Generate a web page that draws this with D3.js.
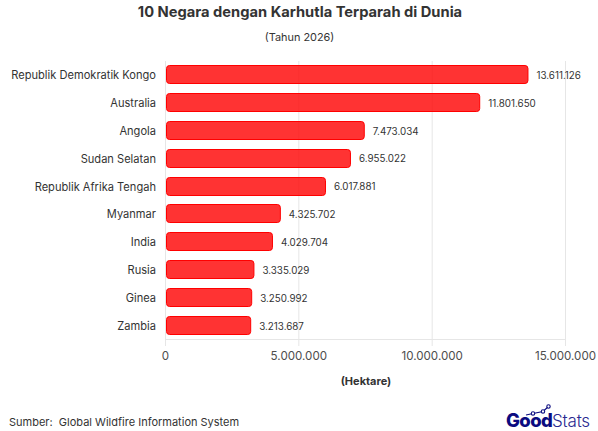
<!DOCTYPE html>
<html><head><meta charset="utf-8">
<script src="https://cdn.jsdelivr.net/npm/d3@7/dist/d3.min.js"></script>
<style>html,body{margin:0;padding:0;background:#fff}svg{display:block}text{font-family:Inter,"Open Sans",sans-serif}</style>
</head><body><svg id="c" width="598" height="431"></svg>
<script>
const categories=["Republik Demokratik Kongo","Australia","Angola","Sudan Selatan","Republik Afrika Tengah","Myanmar","India","Rusia","Ginea","Zambia"];
const values=[13611126,11801650,7473034,6955022,6017881,4325702,4029704,3335029,3250992,3213687];
const ticks=[0,5000000,10000000,15000000];
const fmt=v=>d3.format(",")(v).replace(/,/g,".");
const svg=d3.select("#c");
const x=d3.scaleLinear().domain([0,15000000]).range([165.5,565.5]);
const y=d3.scaleBand().domain(categories).range([61,339.5]).paddingInner(0.3).paddingOuter(0.15);
const by=c=>Math.round(y(c))+0.5;
svg.append("g").selectAll("line").data(ticks).join("line")
 .attr("x1",d=>x(d)).attr("x2",d=>x(d)).attr("y1",61).attr("y2",346)
 .attr("stroke","#e6e6e6").attr("stroke-width",1);
svg.append("line").attr("x1",165).attr("x2",566).attr("y1",339.5).attr("y2",339.5).attr("stroke","#e6e6e6");
svg.append("g").selectAll("rect").data(values).join("rect")
 .attr("x",x(0)+1).attr("y",(d,i)=>by(categories[i]))
 .attr("width",d=>x(d)-x(0)-1.5).attr("height",18)
 .attr("rx",3).attr("fill","rgba(255,0,0,0.8)").attr("stroke","#f00").attr("stroke-width",1);
svg.append("g").selectAll("text").data(values).join("text")
 .attr("x",d=>x(d)+8).attr("y",(d,i)=>y(categories[i])+y.bandwidth()/2+4)
 .attr("font-size",9.8).attr("fill","#333").text(fmt);
svg.append("g").selectAll("text").data(categories).join("text")
 .attr("x",156).attr("y",d=>y(d)+y.bandwidth()/2+4.3)
 .attr("text-anchor","end").attr("font-size",11.1).attr("fill","#333").text(d=>d);
svg.append("g").selectAll("text").data(ticks).join("text")
 .attr("x",d=>x(d)).attr("y",360)
 .attr("text-anchor","middle").attr("font-size",11.6).attr("fill","#4d4d4d").text(fmt);
svg.append("text").attr("x",366).attr("y",385).attr("text-anchor","middle")
 .attr("font-size",11).attr("font-weight",700).attr("fill","#333").text("(Hektare)");
svg.append("text").attr("x",300).attr("y",17).attr("text-anchor","middle")
 .attr("font-size",14.7).attr("font-weight",700).attr("fill","#333").text("10 Negara dengan Karhutla Terparah di Dunia");
svg.append("text").attr("x",299.5).attr("y",40.5).attr("text-anchor","middle")
 .attr("font-size",10.9).attr("fill","#333").text("(Tahun 2026)");
svg.append("text").attr("x",9).attr("y",426).attr("font-size",11).attr("fill","#333").attr("xml:space","preserve").text("Sumber:  Global Wildfire Information System");
const logo=svg.append("g");
logo.append("text").attr("x",506).attr("y",427).attr("font-size",18.5).attr("font-weight",800).attr("fill","#0b0b80").attr("letter-spacing",-0.6).text("Good");
logo.append("text").attr("x",552).attr("y",427).attr("font-size",17).attr("font-weight",300).attr("fill","#2a2a90").attr("letter-spacing",-0.2).text("Stats");
const lg=[[526,415],[533,413.5],[543,411.5],[548.5,406.5]];
logo.append("path").attr("d",d3.line()(lg)).attr("fill","none").attr("stroke","#0b0b80").attr("stroke-width",1.2);
logo.selectAll("circle").data(lg.slice(1)).join("circle").attr("cx",d=>d[0]).attr("cy",d=>d[1]).attr("r",1.7).attr("fill","#fff").attr("stroke","#0b0b80").attr("stroke-width",1.1);
</script></body></html>
